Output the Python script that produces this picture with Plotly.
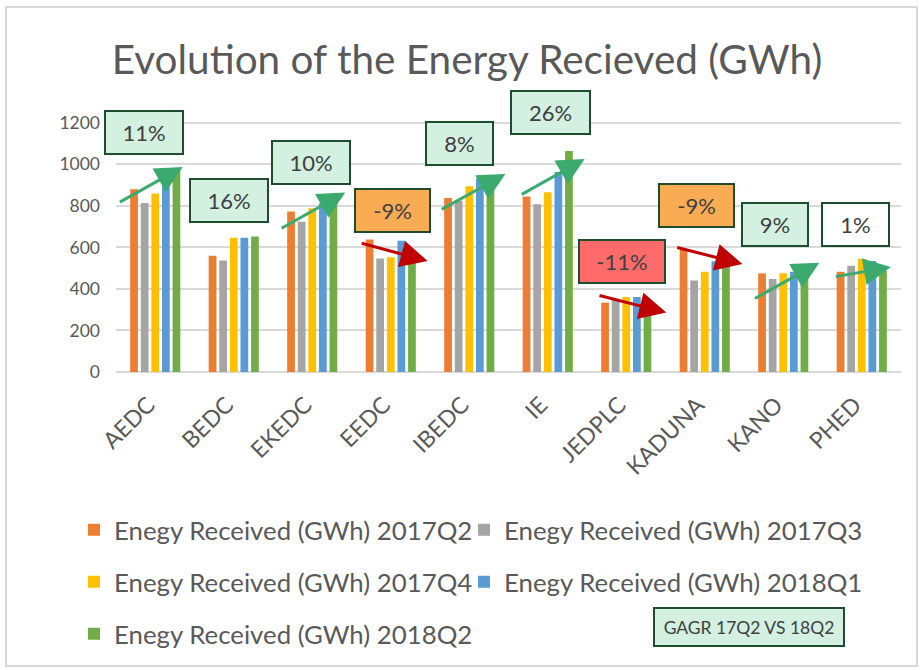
import plotly.graph_objects as go

# ---------------- data ----------------
categories = ["AEDC", "BEDC", "EKEDC", "EEDC", "IBEDC", "IE", "JEDPLC", "KADUNA", "KANO", "PHED"]
q2_2017 = [880, 560, 773, 638, 838, 845, 334, 592, 475, 483]
q3_2017 = [814, 537, 723, 546, 825, 808, 350, 440, 448, 512]
q4_2017 = [859, 646, 789, 553, 894, 866, 361, 483, 475, 545]
q1_2018 = [902, 646, 812, 632, 929, 963, 361, 533, 483, 534]
q2_2018 = [975, 653, 852, 576, 907, 1064, 299, 534, 518, 488]
series_names = [
    "Enegy Received (GWh) 2017Q2",
    "Enegy Received (GWh) 2017Q3",
    "Enegy Received (GWh) 2017Q4",
    "Enegy Received (GWh) 2018Q1",
    "Enegy Received (GWh) 2018Q2",
]
series_values = [q2_2017, q3_2017, q4_2017, q1_2018, q2_2018]
growth_labels = ["11%", "16%", "10%", "-9%", "8%", "26%", "-11%", "-9%", "9%", "1%"]
y_ticks = [0, 200, 400, 600, 800, 1000, 1200]

# ---------------- styling / placement ----------------
colors = ["#ED7D31", "#A5A5A5", "#FFC000", "#5B9BD5", "#70AD47"]
W, H = 920, 670
L, R, T, B = 116, 19, 102, 298
PW, PH = W - L - R, H - T - B
FONT = "Lato"
GREY = "#595959"

# growth boxes: (category index position, value position, width px, fill)
box_pos = [
    (-0.14, 1152, 80, "#D3F0E0"),
    (0.94, 827, 80, "#D3F0E0"),
    (1.99, 1011, 80, "#D3F0E0"),
    (3.02, 777, 77, "#F9AC54"),
    (3.88, 1101, 69, "#D3F0E0"),
    (5.04, 1250, 81, "#D3F0E0"),
    (5.95, 534, 88, "#FF6B6B"),
    (6.90, 803, 77, "#F9AC54"),
    (7.90, 709, 68, "#D3F0E0"),
    (8.92, 709, 69, "#FFFFFF"),
]
# arrows: tail (x, y) -> head (x, y), colour
arrows = [
    ((-0.47, 814), (0.35, 987), "#3AAA6E"),
    ((1.59, 688), (2.42, 864), "#3AAA6E"),
    ((2.61, 622), (3.47, 534), "#C00000"),
    ((3.63, 779), (4.46, 953), "#3AAA6E"),
    ((4.65, 851), (5.47, 1025), "#3AAA6E"),
    ((5.64, 370), (6.51, 286), "#C00000"),
    ((6.63, 601), (7.48, 520), "#C00000"),
    ((7.62, 350), (8.46, 526), "#3AAA6E"),
    ((8.65, 458), (9.37, 505), "#3AAA6E"),
]

fig = go.Figure()
legend_ids = ["legend", "legend2", "legend3", "legend4", "legend5"]
for name, vals, col, lg in zip(series_names, series_values, colors, legend_ids):
    fig.add_trace(go.Bar(x=categories, y=vals, name=name, marker_color=col,
                         marker_line_width=0, legend=lg))

annotations = []
for (tail, head, col) in arrows:
    annotations.append(dict(
        x=head[0], y=head[1], ax=tail[0], ay=tail[1],
        xref="x", yref="y", axref="x", ayref="y",
        text="", showarrow=True, arrowhead=2, arrowsize=1.8,
        arrowwidth=3, arrowcolor=col, standoff=0,
    ))
for lab, (bx, by, bw, fill) in zip(growth_labels, box_pos):
    annotations.append(dict(
        x=bx, y=by, xref="x", yref="y", text=lab, showarrow=False,
        xanchor="center", yanchor="middle",
        width=bw - 4, height=41, bgcolor=fill, bordercolor="#1E4D2E",
        borderwidth=2, borderpad=0,
        font=dict(family=FONT, size=22, color="#404040"),
    ))


def px_x(px):
    return (px - L) / PW


def px_y(py):
    return (H - B - py) / PH


annotations.append(dict(
    x=px_x(749), y=px_y(627), xref="paper", yref="paper", text="GAGR 17Q2 VS 18Q2",
    xanchor="center", yanchor="middle",
    showarrow=False, width=188, height=36, bgcolor="#D3F0E0", bordercolor="#1E4D2E",
    borderwidth=2, borderpad=0, font=dict(family=FONT, size=17.5, color="#404040"),
))

shapes = [dict(type="rect", xref="paper", yref="paper",
               x0=px_x(6), x1=px_x(917), y0=px_y(666), y1=px_y(7),
               line=dict(color="#D9D9D9", width=2), fillcolor="rgba(0,0,0,0)",
               layer="below")]

legend_rows = [(74, 530), (464, 530), (74, 582), (464, 582), (74, 634)]
legend_layouts = {}
for lg, (lx, ly) in zip(legend_ids, legend_rows):
    legend_layouts[lg] = dict(
        x=lx / W, y=1 - ly / H, xref="container", yref="container",
        xanchor="left", yanchor="middle", bgcolor="rgba(0,0,0,0)",
        font=dict(family=FONT, size=25.8, color=GREY),
    )

fig.update_layout(
    width=W, height=H,
    margin=dict(l=L, r=R, t=T, b=B, autoexpand=False),
    paper_bgcolor="white", plot_bgcolor="white",
    barmode="group", bargap=0.325, bargroupgap=0.27,
    title=dict(text="Evolution of the Energy Recieved (GWh)",
               x=467 / W, xanchor="center", y=1 - 60 / H, yanchor="middle",
               xref="container", yref="container",
               font=dict(family=FONT, size=40.5, color=GREY)),
    xaxis=dict(tickangle=-45, tickfont=dict(family=FONT, size=23, color=GREY),
               showgrid=False, showline=False, ticks="", range=[-0.5, 9.5],
               ticklabelstandoff=14, ticklabelshift=-7),
    yaxis=dict(range=[0, 1300], tickvals=y_ticks, gridcolor="#D9D9D9", gridwidth=2,
               tickfont=dict(family=FONT, size=17.5, color=GREY), zeroline=True,
               zerolinecolor="#D9D9D9", zerolinewidth=2, ticklabelstandoff=15,
               showline=False),
    showlegend=True,
    annotations=annotations,
    shapes=shapes,
    font=dict(family=FONT, color=GREY),
    **legend_layouts,
)

fig.write_html("out.html", config={"displayModeBar": False},
               post_script="document.body.style.margin='0px';")
